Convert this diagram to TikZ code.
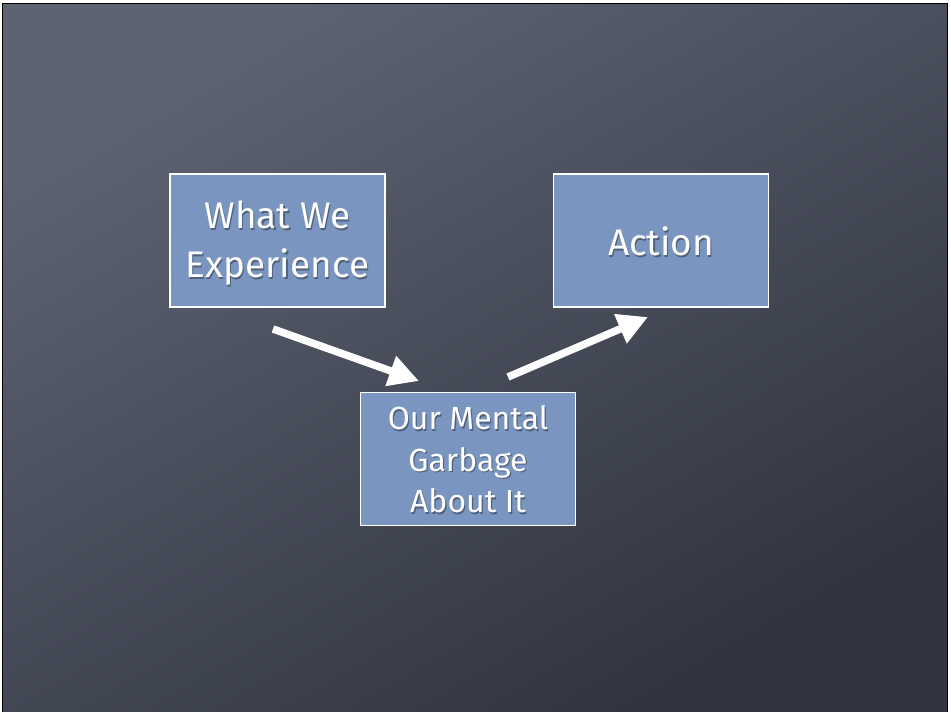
\documentclass[tikz,border=0pt]{standalone}
\usepackage{fontspec}
\setmainfont{Fira Sans}
\usetikzlibrary{arrows.meta}
\definecolor{boardlight}{RGB}{94,99,114}
\definecolor{boarddark}{RGB}{48,52,64}
\definecolor{cardblue}{RGB}{122,149,192}
\begin{document}
\begin{tikzpicture}[x=1pt,y=-1pt,
  card/.style={draw=white, line width=1.6pt, fill=cardblue,
    minimum width=215pt, minimum height=133pt, inner sep=0pt},
  cardtext/.style={text=white, align=center},
  textshadow/.style={text=black, opacity=0.35, align=center},
  bigfont/.style={font=\fontsize{37}{49}\selectfont},
  midfont/.style={font=\fontsize{32}{41.5}\selectfont},
  flow/.style={draw=white, line width=7.5pt,
    -{Triangle[length=30pt,width=30pt]}}
]
% page and chalkboard
\useasboundingbox (0,0) rectangle (951,712);
\fill[white] (0,0) rectangle (951,712);
\shade[top color=boardlight, bottom color=boarddark, shading angle=30]
  (3,4) rectangle (947,712);
\draw[black, line width=1.5pt] (2.5,712) -- (2.5,3.5) -- (947.5,3.5) -- (947.5,712);

% cards
\node[card] (experience) at (277.5,240.5) {};
\node[card] (action) at (661,240.5) {};
\node[card] (garbage) at (468,459) {};

% card labels with a soft drop shadow
\node[textshadow, bigfont] at ([shift={(1.2,4.5)}]experience.center) {What We\\Experience};
\node[cardtext, bigfont] (experiencetext) at ([yshift=-3pt]experience.center) {What We\\Experience};
\node[textshadow, bigfont] at ([shift={(1.2,2.5)}]action.center) {Action};
\node[cardtext, bigfont] (actiontext) at ([yshift=-1pt]action.center) {Action};
\node[textshadow, midfont] at ([shift={(1.2,2)}]garbage.center) {Our Mental\\Garbage\\About It};
\node[cardtext, midfont] (garbagetext) at ([yshift=-0.5pt]garbage.center) {Our Mental\\Garbage\\About It};

% arrow end points
\coordinate (in-start) at (273,329);
\coordinate (in-end) at (419,381);
\coordinate (out-start) at (508,377);
\coordinate (out-end) at (648,317);

\draw[flow] (in-start) -- (in-end);
\draw[flow] (out-start) -- (out-end);
\end{tikzpicture}
\end{document}
